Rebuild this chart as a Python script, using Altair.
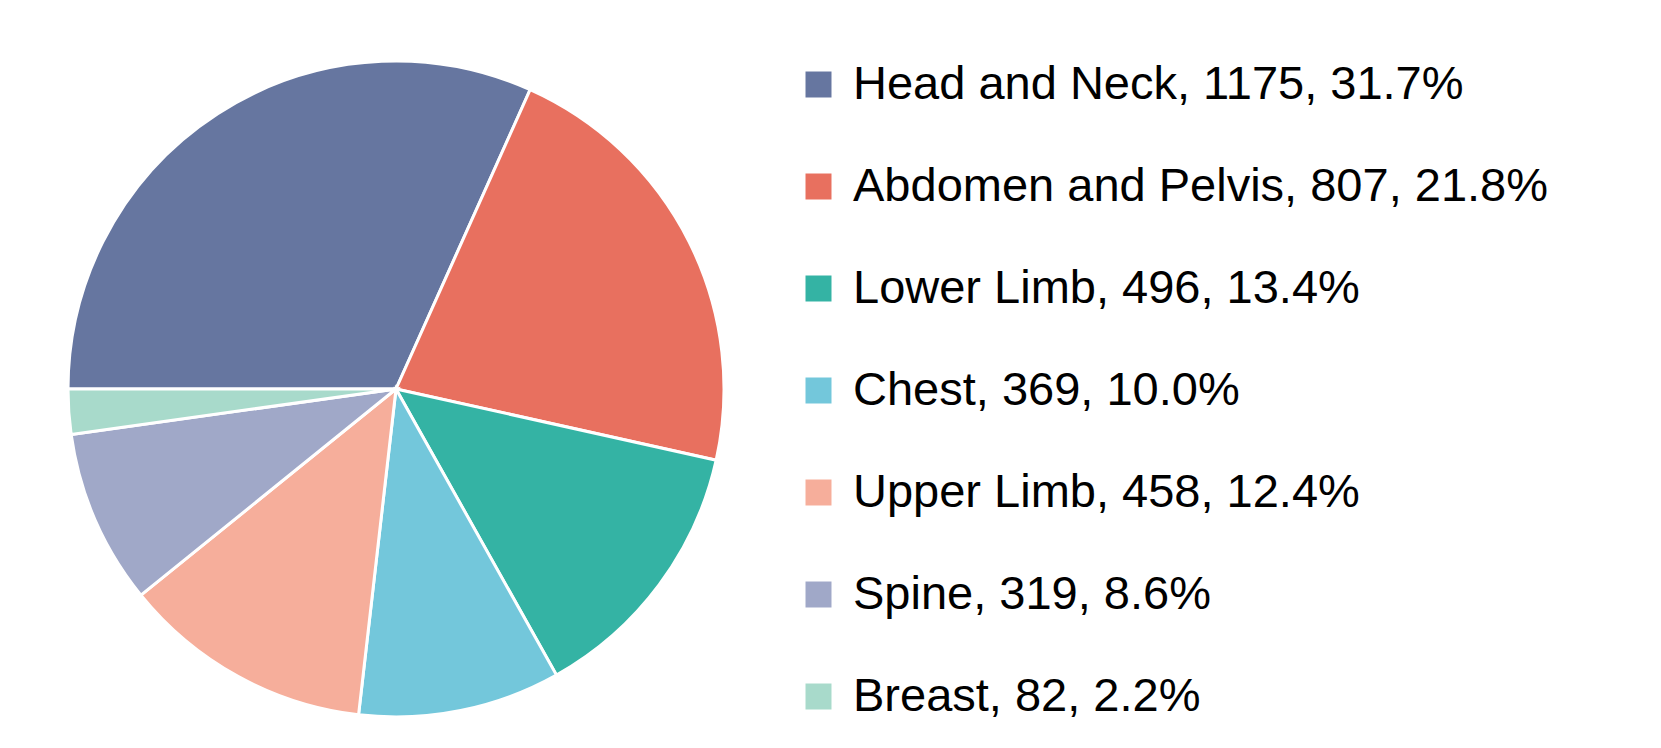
import math
import altair as alt
import pandas as pd

categories = ["Head and Neck", "Abdomen and Pelvis", "Lower Limb", "Chest", "Upper Limb", "Spine", "Breast"]
counts = [1175, 807, 496, 369, 458, 319, 82]
percents = ["31.7%", "21.8%", "13.4%", "10.0%", "12.4%", "8.6%", "2.2%"]
colors = ["#6676A0", "#E8705F", "#34B3A4", "#73C7DB", "#F6AE9B", "#A0A8C8", "#A8DACB"]

labels = [f"{c}, {n}, {p}" for c, n, p in zip(categories, counts, percents)]
df = pd.DataFrame({"label": labels, "count": counts, "idx": list(range(len(labels)))})

chart = alt.Chart(df).mark_arc(stroke="white", strokeWidth=3).encode(
    theta=alt.Theta("count:Q", stack=True,
                    scale=alt.Scale(range=[1.5 * math.pi, 3.5 * math.pi])),
    order=alt.Order("idx:Q", sort="ascending"),
    color=alt.Color("label:N", sort=labels,
                    scale=alt.Scale(domain=labels, range=colors),
                    legend=alt.Legend(
                        title=None, orient="none", legendX=727, legendY=0,
                        symbolType="square", symbolSize=676, symbolStrokeWidth=0,
                        labelFontSize=47, labelFont="Liberation Sans", labelColor="black",
                        labelOffset=11, rowPadding=54, labelLimit=1000,
                    )),
).properties(
    width=656, height=656,
    padding={"left": 54, "top": 47, "right": 10, "bottom": 10},
).configure_view(stroke=None)

chart.save("out.html", embed_options={"renderer": "svg", "actions": False})
